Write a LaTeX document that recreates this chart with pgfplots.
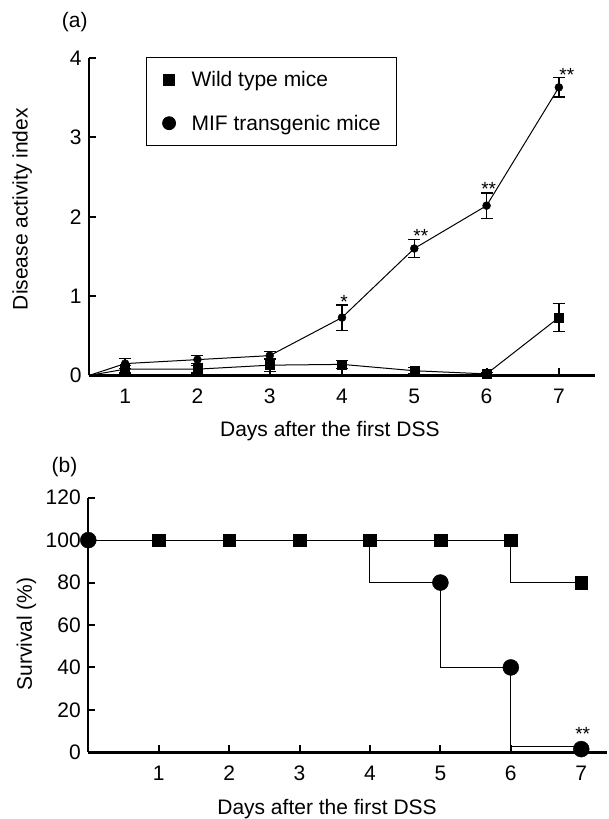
\documentclass[border=0pt]{standalone}
\usepackage{fontspec}
\setmainfont{Liberation Sans}
\usepackage{pgfplots}
\pgfplotsset{compat=1.18}
\usepackage{pgfplotstable}

% panel (a): disease activity index, mean and error
\pgfplotstableread{
x   y     e
0.5 0     0
1   0.08  0.05
2   0.08  0.05
3   0.13  0.08
4   0.14  0.05
5   0.06  0.04
6   0.02  0.02
7   0.73  0.18
}\wtdai
\pgfplotstableread{
x   y     e
0.5 0     0
1   0.15  0.06
2   0.20  0.05
3   0.25  0.05
4   0.73  0.16
5   1.60  0.11
6   2.14  0.16
7   3.63  0.12
}\mifdai

% panel (b): survival (%)
\pgfplotstableread{
x y
0 100
1 100
2 100
3 100
4 100
5 100
6 100
7 80
}\wtsurv
\pgfplotstableread{
x y
0 100
4 100
5 80
6 40
7 2.5
}\mifstep
\pgfplotstableread{
x y
0 100
5 80
6 40
7 1.5
}\mifmarks

\newcommand\bigfont{\fontsize{21}{25}\selectfont}

\pgfplotsset{
  panel/.style={
    scale only axis,
    axis lines=left,
    axis line style={-, line width=2.4pt},
    tick align=inside,
    major tick length=7pt,
    tick style={line width=2pt, black},
    font=\bigfont,
    tick label style={font=\bigfont},
    label style={font=\bigfont},
    xticklabel style={yshift=-10pt},
    yticklabel style={xshift=-4pt},
    /pgf/number format/assume math mode=true,
    xtick={1,...,7},
    clip=false,
  },
}

\begin{document}
\begin{tikzpicture}
\useasboundingbox (0pt,0pt) rectangle (608pt,819pt);

% ===== (a) disease activity index =====
\begin{axis}[
    panel,
    at={(89pt,443.5pt)}, anchor=south west,
    width=506pt, height=317.5pt,
    xmin=0.5, xmax=7.5, ymin=0, ymax=4,
    ytick={0,...,4},
    xlabel={Days after the first DSS},
    ylabel={Disease activity index},
    xlabel style={at={(axis description cs:0.476,0)}, anchor=center, yshift=-56pt},
    ylabel style={at={(axis description cs:-0.132,0.524)}, anchor=center},
    legend style={draw=black, line width=0.8pt, at={(0.113,1.004)}, anchor=north west,
        inner xsep=16pt, inner ysep=14pt, row sep=27pt, column sep=16pt,
        nodes={inner sep=0pt}, font=\bigfont, cells={anchor=west}},
    legend image code/.code={\draw[#1] plot coordinates {(0pt,0pt)};},
]
\addlegendimage{only marks, black, mark=square*, mark size=5.5pt}
\addlegendentry{Wild type mice}
\addlegendimage{only marks, black, mark=*, mark size=6.5pt}
\addlegendentry{MIF transgenic mice}

\addplot[black, line width=1pt, no markers, forget plot] table[x=x, y=y] {\wtdai};
\addplot[black, line width=1pt, no markers, forget plot] table[x=x, y=y] {\mifdai};
\addplot[only marks, black, mark=square*, mark size=4.5pt, forget plot,
    restrict x to domain=1:7,
    error bars/.cd, y dir=both, y explicit,
    error bar style={line width=1.3pt},
    error mark options={rotate=90, mark size=6pt, line width=1.3pt}]
    table[x=x, y=y, y error=e] {\wtdai};
\addplot[only marks, black, mark=*, mark size=4pt, forget plot,
    restrict x to domain=1:7,
    error bars/.cd, y dir=both, y explicit,
    error bar style={line width=1.3pt},
    error mark options={rotate=90, mark size=6pt, line width=1.3pt}]
    table[x=x, y=y, y error=e] {\mifdai};

\node[font=\fontsize{19}{19}\selectfont] at (axis cs:4.03,0.93) {*};
\node[font=\fontsize{19}{19}\selectfont] at (axis cs:5.09,1.76) {**};
\node[font=\fontsize{19}{19}\selectfont] at (axis cs:6.03,2.35) {**};
\node[font=\fontsize{19}{19}\selectfont] at (axis cs:7.11,3.79) {**};
\node[font=\bigfont] at (axis description cs:-0.028,1.113) {(a)};
\end{axis}

% ===== (b) survival =====
\begin{axis}[
    panel,
    at={(88.3pt,66.7pt)}, anchor=south west,
    width=519pt, height=254.6pt,
    xmin=0, xmax=7.37, ymin=0, ymax=120,
    ytick={0,20,...,120},
    xlabel={Days after the first DSS},
    ylabel={Survival (\%)},
    xlabel style={at={(axis description cs:0.46,0)}, anchor=center, yshift=-57pt},
    ylabel style={at={(axis description cs:-0.119,0.465)}, anchor=center},
]
\addplot[black, line width=1pt, const plot mark right, no markers] table[x=x, y=y] {\wtsurv};
\addplot[black, line width=1pt, const plot mark right, no markers] table[x=x, y=y] {\mifstep};
\addplot[only marks, black, mark=square*, mark size=6.3pt, mark indices={2,...,8}] table[x=x, y=y] {\wtsurv};
\addplot[only marks, black, mark=*, mark size=8pt] table[x=x, y=y] {\mifmarks};

\node[font=\fontsize{19}{19}\selectfont] at (axis cs:7.02,8.5) {**};
\node[font=\bigfont] at (axis description cs:-0.046,1.12) {(b)};
\end{axis}
\end{tikzpicture}
\end{document}
